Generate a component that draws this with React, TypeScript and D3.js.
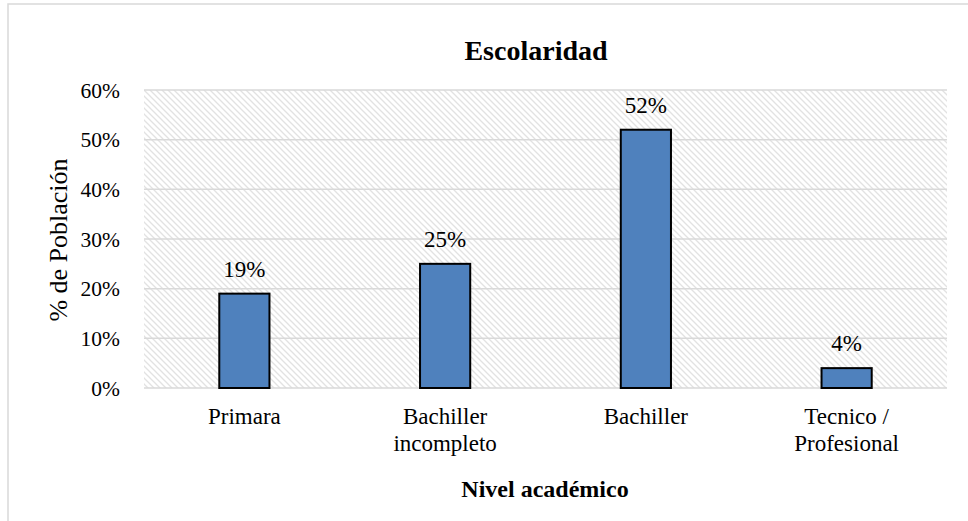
import React, { useRef, useEffect } from "react";
import * as d3 from "d3";

const categories = ["Primara", "Bachiller incompleto", "Bachiller", "Tecnico / Profesional"];
const categoryLines = [["Primara"], ["Bachiller", "incompleto"], ["Bachiller"], ["Tecnico /", "Profesional"]];
const values = [0.19, 0.25, 0.52, 0.04];
const yTicks = [0, 0.1, 0.2, 0.3, 0.4, 0.5, 0.6];

export default function App() {
  const ref = useRef<SVGSVGElement | null>(null);

  useEffect(() => {
    const width = 968;
    const height = 521;
    const plot = { left: 144, right: 947, top: 90, bottom: 388 };
    const font = "'Liberation Serif', 'Times New Roman', serif";

    d3.select(ref.current).selectAll("*").remove();

    const svg = d3.select(ref.current).attr("width", width).attr("height", height);

    // hatch pattern for plot background
    const defs = svg.append("defs");
    const pat = defs
      .append("pattern")
      .attr("id", "hatch")
      .attr("patternUnits", "userSpaceOnUse")
      .attr("width", 6)
      .attr("height", 6);
    pat.append("rect").attr("width", 6).attr("height", 6).attr("fill", "#fff");
    pat
      .append("path")
      .attr("d", "M-1,-1 L7,7 M-4,2 L2,8 M4,-2 L8,2")
      .attr("stroke", "#e2e2e2")
      .attr("stroke-width", 1.3);

    svg.append("rect").attr("width", width).attr("height", height).attr("fill", "#fff");

    // outer chart border (only top / left visible)
    svg
      .append("path")
      .attr("d", `M8,${height} L8,4 L${width},4`)
      .attr("fill", "none")
      .attr("stroke", "#d9d9d9")
      .attr("stroke-width", 1.5);

    const x = d3
      .scaleBand()
      .domain(categories)
      .range([plot.left, plot.right])
      .paddingInner(0.75)
      .paddingOuter(0.375);

    const y = d3.scaleLinear().domain([0, 0.6]).range([plot.bottom, plot.top]);

    svg
      .append("rect")
      .attr("x", plot.left)
      .attr("y", plot.top)
      .attr("width", plot.right - plot.left)
      .attr("height", plot.bottom - plot.top)
      .attr("fill", "url(#hatch)");

    // gridlines
    svg
      .append("g")
      .selectAll("line")
      .data(yTicks)
      .join("line")
      .attr("x1", plot.left)
      .attr("x2", plot.right)
      .attr("y1", (d) => y(d))
      .attr("y2", (d) => y(d))
      .attr("stroke", "#d9d9d9")
      .attr("stroke-width", 1.5);

    // y tick labels
    svg
      .append("g")
      .selectAll("text")
      .data(yTicks)
      .join("text")
      .attr("x", 120)
      .attr("y", (d) => y(d) + 7.5)
      .attr("text-anchor", "end")
      .attr("font-family", font)
      .attr("font-size", 21.5)
      .attr("fill", "#000")
      .text((d) => d3.format(".0%")(d));

    // bars
    svg
      .append("g")
      .selectAll("rect")
      .data(values)
      .join("rect")
      .attr("x", (_, i) => x(categories[i])!)
      .attr("y", (d) => y(d))
      .attr("width", x.bandwidth())
      .attr("height", (d) => y(0) - y(d))
      .attr("fill", "#4f81bd")
      .attr("stroke", "#000")
      .attr("stroke-width", 2);

    // data labels
    svg
      .append("g")
      .selectAll("text")
      .data(values)
      .join("text")
      .attr("x", (_, i) => x(categories[i])! + x.bandwidth() / 2)
      .attr("y", (d) => y(d) - 17)
      .attr("text-anchor", "middle")
      .attr("font-family", font)
      .attr("font-size", 23)
      .text((d) => d3.format(".0%")(d));

    // category labels
    const cat = svg
      .append("g")
      .selectAll("text")
      .data(categories)
      .join("text")
      .attr("text-anchor", "middle")
      .attr("font-family", font)
      .attr("font-size", 23);
    cat.each(function (c, i) {
      d3.select(this)
        .selectAll("tspan")
        .data(categoryLines[i])
        .join("tspan")
        .attr("x", x(c)! + x.bandwidth() / 2)
        .attr("y", (_, j) => 424 + j * 27)
        .text((t) => t);
    });

    // title
    svg
      .append("text")
      .attr("x", 536)
      .attr("y", 60)
      .attr("text-anchor", "middle")
      .attr("font-family", font)
      .attr("font-weight", "bold")
      .attr("font-size", 28)
      .text("Escolaridad");

    // x axis title
    svg
      .append("text")
      .attr("x", 545)
      .attr("y", 497)
      .attr("text-anchor", "middle")
      .attr("font-family", font)
      .attr("font-weight", "bold")
      .attr("font-size", 24)
      .text("Nivel académico");

    // y axis title
    svg
      .append("text")
      .attr("transform", "translate(67,240) rotate(-90)")
      .attr("text-anchor", "middle")
      .attr("font-family", font)
      .attr("font-size", 26)
      .text("% de Población");
  }, []);

  return (
    <div style={{ position: "absolute", left: 0, top: 0 }}>
      <svg ref={ref}></svg>
    </div>
  );
}
